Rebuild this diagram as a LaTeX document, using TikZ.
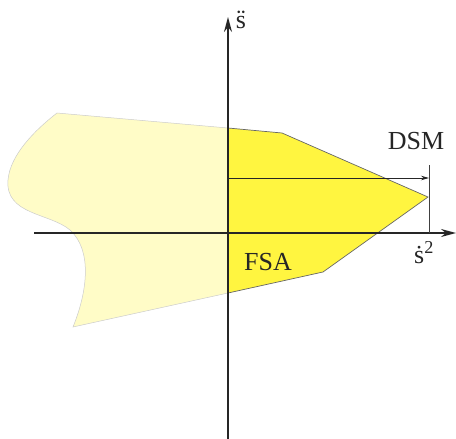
\documentclass[tikz,border=0pt]{standalone}
\usepackage{fontspec}
\setmainfont{Liberation Serif}
\usetikzlibrary{arrows.meta,calc}

\begin{document}
\begin{tikzpicture}[x=1pt, y=-1pt,
      axis/.style={line width=1.6pt, draw=black!85, -{Stealth[length=15pt, width=8pt]}},
      dsmarrow/.style={line width=0.8pt, draw=black!85, -{Stealth[length=8pt, width=4.5pt]}},
      region/.style={fill=yellow!22, draw=black!20, line width=0.5pt},
      fsa/.style={fill=yellow!75!white, draw=black!60, line width=0.7pt},
      label/.style={font=\fontsize{26}{28}\selectfont, inner sep=0pt, anchor=base, text=black!85}
    ]
      \useasboundingbox (0,0) rectangle (456,439);

      % Light outer region
      \path[region] (57,113) -- (228,128) -- (228,293) -- (73,327)
        .. controls (88,290) and (92,250) .. (70,230)
        .. controls (50,213) and (5,215) .. (8,180)
        .. controls (10,155) and (35,130) .. cycle;

      % Feasible set
      \path[fsa] (228,128) -- (282,133) -- (428,197) -- (323,272) -- (228,293) -- cycle;

      % Axes
      \coordinate (xstart) at (34,233);
      \coordinate (xend) at (456,233);
      \coordinate (ystart) at (228,439);
      \coordinate (yend) at (228,17);
      \draw[axis] (xstart) -- (xend);
      \draw[axis] (ystart) -- (yend);

      % DSM marker
      \coordinate (tickbot) at (429,233);
      \coordinate (ticktop) at (429,165);
      \coordinate (dsmstart) at (228,178);
      \coordinate (dsmend) at (429,178);
      \draw[line width=0.7pt, black!75] (tickbot) -- (ticktop);
      \draw[dsmarrow] (dsmstart) -- (dsmend);

      % Labels
      \node[label] (sdd) at (241,28) {\"{s}};
      \node[label] (sd2) at (424,263) {\.{s}\textsuperscript{2}};
      \node[label] (dsm) at (416,149) {DSM};
      \node[label] (fsalabel) at (268,270) {FSA};
    \end{tikzpicture}
\end{document}
